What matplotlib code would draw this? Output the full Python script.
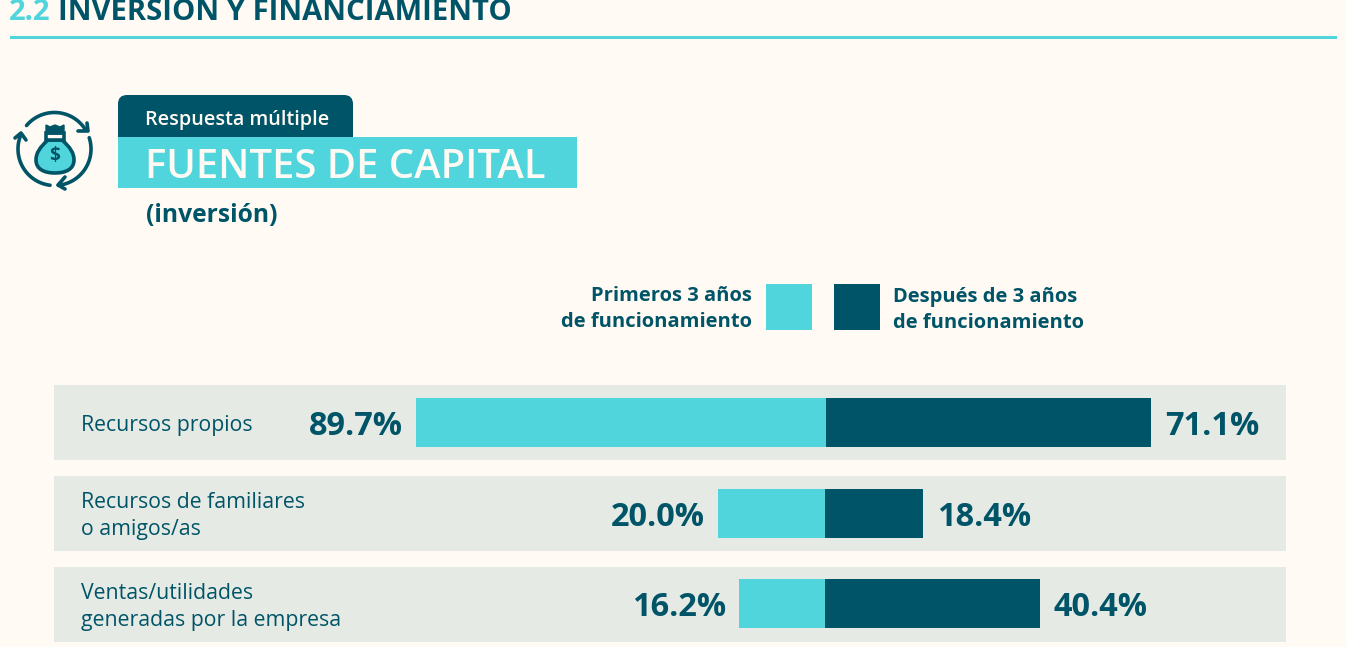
import numpy as np
import matplotlib
matplotlib.use("Agg")
import matplotlib.pyplot as plt
from matplotlib.patches import Rectangle, FancyBboxPatch, Polygon, PathPatch
from matplotlib.path import Path

categories = ["Recursos propios", "Recursos de familiares\no amigos/as", "Ventas/utilidades\ngeneradas por la empresa"]
primeros = [89.7, 20.0, 16.2]
despues = [71.1, 18.4, 40.4]
legend_labels = ["Primeros 3 años\nde funcionamiento", "Después de 3 años\nde funcionamiento"]
section_num = "2.2"
section_title = "INVERSIÓN Y FINANCIAMIENTO"
tag = "Respuesta múltiple"
title = "FUENTES DE CAPITAL"
subtitle = "(inversión)"

W, H = 1346, 647
BG = "#FFFAF3"; TEAL = "#4FD5DB"; DARK = "#005468"; ROW = "#E6EAE4"
FONT = "Open Sans"
plt.rcParams["font.family"] = [FONT, "DejaVu Sans"]

fig = plt.figure(figsize=(W/100, H/100), dpi=100, facecolor=BG)
bg = fig.add_axes([0, 0, 1, 1])
bg.set_xlim(0, W); bg.set_ylim(H, 0); bg.axis("off")
pt = 0.72  # pixel -> point

def T(x, y, s, size, color=DARK, weight="normal", ha="left", va="baseline", **k):
    return bg.text(x, y, s, fontsize=size*pt, color=color, fontweight=weight, ha=ha, va=va, **k)

# header
T(9, 20, section_num, 29.3, TEAL, "bold")
T(58, 20, section_title, 29.3, DARK, "bold")
bg.add_patch(Rectangle((10, 36), 1327, 3, fc=TEAL, ec="none"))

# tag / title
bg.add_patch(FancyBboxPatch((118+9, 95+9), 235-18, 50, boxstyle="round,pad=9,rounding_size=9", fc=DARK, ec="none"))
bg.add_patch(Rectangle((118, 137), 459, 51, fc=TEAL, ec="none", zorder=3))
T(145, 125, tag, 19.8, "#FFFAF3", "semibold")
T(145, 178, title, 40, "#FFFAF3", "semibold", zorder=4)
T(146, 222, subtitle, 24.6, DARK, "bold")

# icon
cx, cy, r = 54.5, 149, 36.5
lw = 2.6
for a1, a2 in [(220, 329), (-18, 84), (97, 203)]:
    th = np.radians(np.linspace(a1, a2, 60))
    bg.plot(cx + r*np.cos(th), cy + r*np.sin(th), color=DARK, lw=lw, solid_capstyle="round")
for tip, b1, b2 in [((88, 131), (78, 131), (87, 123)), ((58, 185), (65, 177), (65, 189)), ((21, 133), (15, 138), (26, 140))]:
    bg.plot([b1[0], tip[0], b2[0]], [b1[1], tip[1], b2[1]], color=DARK, lw=lw,
            solid_capstyle="round", solid_joinstyle="round")
bag = Path([(48, 140), (40, 147), (36, 153), (36, 160), (36, 169), (44, 173), (55, 173),
            (66, 173), (74, 169), (74, 160), (74, 153), (70, 147), (62, 140), (48, 140)],
           [Path.MOVETO] + [Path.CURVE4]*12 + [Path.CLOSEPOLY])
bg.add_patch(PathPatch(bag, fc=TEAL, ec=DARK, lw=lw))
bg.add_patch(Rectangle((46, 133), 18, 7, fc=BG, ec=DARK, lw=lw))
bg.add_patch(Polygon([(46, 134), (46, 125), (50, 127), (55, 125), (60, 127), (64, 125), (64, 134)], fc=DARK, ec=DARK))
T(55, 156, "$", 19, DARK, "bold", ha="center", va="center", parse_math=False)

# legend
bg.add_patch(Rectangle((766, 284), 46, 46, fc=TEAL, ec="none"))
bg.add_patch(Rectangle((834, 284), 46, 46, fc=DARK, ec="none"))
T(752, 309, legend_labels[0], 20.2, DARK, "bold", ha="right", va="center", ma="right", linespacing=1.4)
T(893, 310, legend_labels[1], 20.2, DARK, "bold", va="center", linespacing=1.4)

# rows: each row is its own axes; first row is drawn at its own scale, as in the source
rows = [(385, 460, 826.3, 4.572, 0), (476, 551, 825.0, 5.34, 0), (567, 642, 825.0, 5.32, 1)]
for i, (top, bot, zero, k, up) in enumerate(rows):
    ax = fig.add_axes([54/W, 1-bot/H, (1286-54)/W, (bot-top)/H])
    ax.set_facecolor(ROW)
    ax.set_xlim((54-zero)/k, (1286-zero)/k)
    ax.set_ylim(-0.5 - up/75, 0.5 - up/75)
    for s in ax.spines.values():
        s.set_visible(False)
    ax.set_xticks([]); ax.set_yticks([])
    ax.barh(0, -primeros[i], height=49/75, color=TEAL)
    ax.barh(0, despues[i], height=49/75, color=DARK)
    ax.annotate(f"{primeros[i]:.1f}%", (-primeros[i], 0), xytext=(-13*pt, -4*pt), textcoords="offset points",
                ha="right", va="center", fontsize=32.5*pt, fontweight="bold", color=DARK)
    ax.annotate(f"{despues[i]:.1f}%", (despues[i], 0), xytext=(14*pt, -4*pt), textcoords="offset points",
                ha="left", va="center", fontsize=32.5*pt, fontweight="bold", color=DARK)
    ax.text(27/(1286-54), 0.5 - 2.5/75, categories[i], transform=ax.transAxes, ha="left", va="center",
            fontsize=21.3*pt, color=DARK, linespacing=1.37)

fig.savefig("out.png", dpi=100, facecolor=BG)
